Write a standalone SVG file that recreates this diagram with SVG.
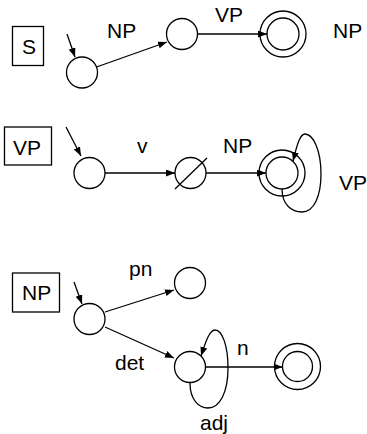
<svg xmlns="http://www.w3.org/2000/svg" width="367" height="434" viewBox="0 0 367 434">
  <style>
    .lbl { font-family: "Liberation Sans", Arial, sans-serif; font-size: 21px; fill: #000; }
    .box { fill: none; stroke: #000; stroke-width: 1.3; }
    .st { fill: #fff; stroke: #000; stroke-width: 1.3; }
    .edge { fill: none; stroke: #000; stroke-width: 1.3; marker-end: url(#arr); }
  </style>
  <defs>
    <marker id="arr" markerUnits="userSpaceOnUse" markerWidth="10" markerHeight="8" refX="9" refY="3.5" orient="auto">
      <path d="M0,0 L9,3.5 L0,7 z" fill="#000"/>
    </marker>
  </defs>

  <rect width="367" height="434" fill="#fff"/>

  <!-- S network -->
  <g id="S-title">
    <rect class="box" x="12.5" y="26.5" width="31" height="39"/>
    <text class="lbl" x="22" y="54">S</text>
  </g>
  <g id="S-q0"><circle class="st" cx="82" cy="72.5" r="15.5"/></g>
  <g id="S-q1"><circle class="st" cx="182" cy="34" r="15.5"/></g>
  <g id="S-q2">
    <circle class="st" cx="283" cy="34" r="23"/>
    <circle class="st" cx="283" cy="34" r="16"/>
  </g>

  <!-- VP network -->
  <g id="VP-title">
    <rect class="box" x="4.5" y="127" width="47" height="38"/>
    <text class="lbl" x="13" y="155">VP</text>
  </g>
  <g id="VP-q0"><circle class="st" cx="89.5" cy="173" r="15.5"/></g>
  <g id="VP-q1">
    <circle class="st" cx="190.5" cy="173" r="15.5"/>
    <line x1="175" y1="189" x2="207" y2="158" stroke="#000" stroke-width="1.3"/>
  </g>
  <g id="VP-q2">
    <circle class="st" cx="282" cy="173" r="23"/>
    <circle class="st" cx="282" cy="173" r="16"/>
  </g>

  <!-- NP network -->
  <g id="NP-title">
    <rect class="box" x="12.5" y="273" width="47" height="39"/>
    <text class="lbl" x="22" y="300">NP</text>
  </g>
  <g id="NP-q0"><circle class="st" cx="89.5" cy="319" r="15.5"/></g>
  <g id="NP-q1"><circle class="st" cx="190" cy="283" r="15.5"/></g>
  <g id="NP-q2"><circle class="st" cx="190" cy="367" r="15.5"/></g>
  <g id="NP-q3">
    <circle class="st" cx="297.5" cy="366.5" r="23"/>
    <circle class="st" cx="297.5" cy="366.5" r="15"/>
  </g>

  <!-- transitions -->
  <g id="connectors">
    <!-- start markers -->
    <line class="edge" x1="67" y1="34" x2="75" y2="57"/>
    <line class="edge" x1="66" y1="127" x2="81" y2="156"/>
    <line class="edge" x1="74" y1="282" x2="82" y2="304"/>

    <!-- S arcs -->
    <line class="edge" x1="96.5" y1="67" x2="167" y2="42"/>
    <line class="edge" x1="197.5" y1="34" x2="267" y2="34"/>

    <!-- VP arcs -->
    <line class="edge" x1="105" y1="173" x2="175" y2="173"/>
    <line class="edge" x1="206" y1="173" x2="266" y2="173"/>
    <path class="edge" d="M282,189 C282,205 292,212 302,212 C314,212 321,196 321,174 C321,150 313,134 305,134 C299,134 296,150 293,161"/>

    <!-- NP arcs -->
    <line class="edge" x1="105" y1="312" x2="174" y2="290"/>
    <line class="edge" x1="105" y1="327" x2="174" y2="358"/>
    <line class="edge" x1="205.5" y1="367" x2="282.5" y2="367"/>
    <path class="edge" d="M190,383 C190,400 199,408 208,408 C220,408 228,392 228,368 C228,345 222,330 215,330 C209,330 205,344 201,356"/>
  </g>

  <!-- arc labels -->
  <g id="labels">
    <text class="lbl" x="107" y="38">NP</text>
    <text class="lbl" x="215" y="22">VP</text>
    <text class="lbl" x="333" y="38">NP</text>
    <text class="lbl" x="137" y="153">v</text>
    <text class="lbl" x="223" y="153">NP</text>
    <text class="lbl" x="339" y="190">VP</text>
    <text class="lbl" x="129" y="276">pn</text>
    <text class="lbl" x="115" y="370">det</text>
    <text class="lbl" x="237" y="355">n</text>
    <text class="lbl" x="200" y="430">adj</text>
  </g>
</svg>
